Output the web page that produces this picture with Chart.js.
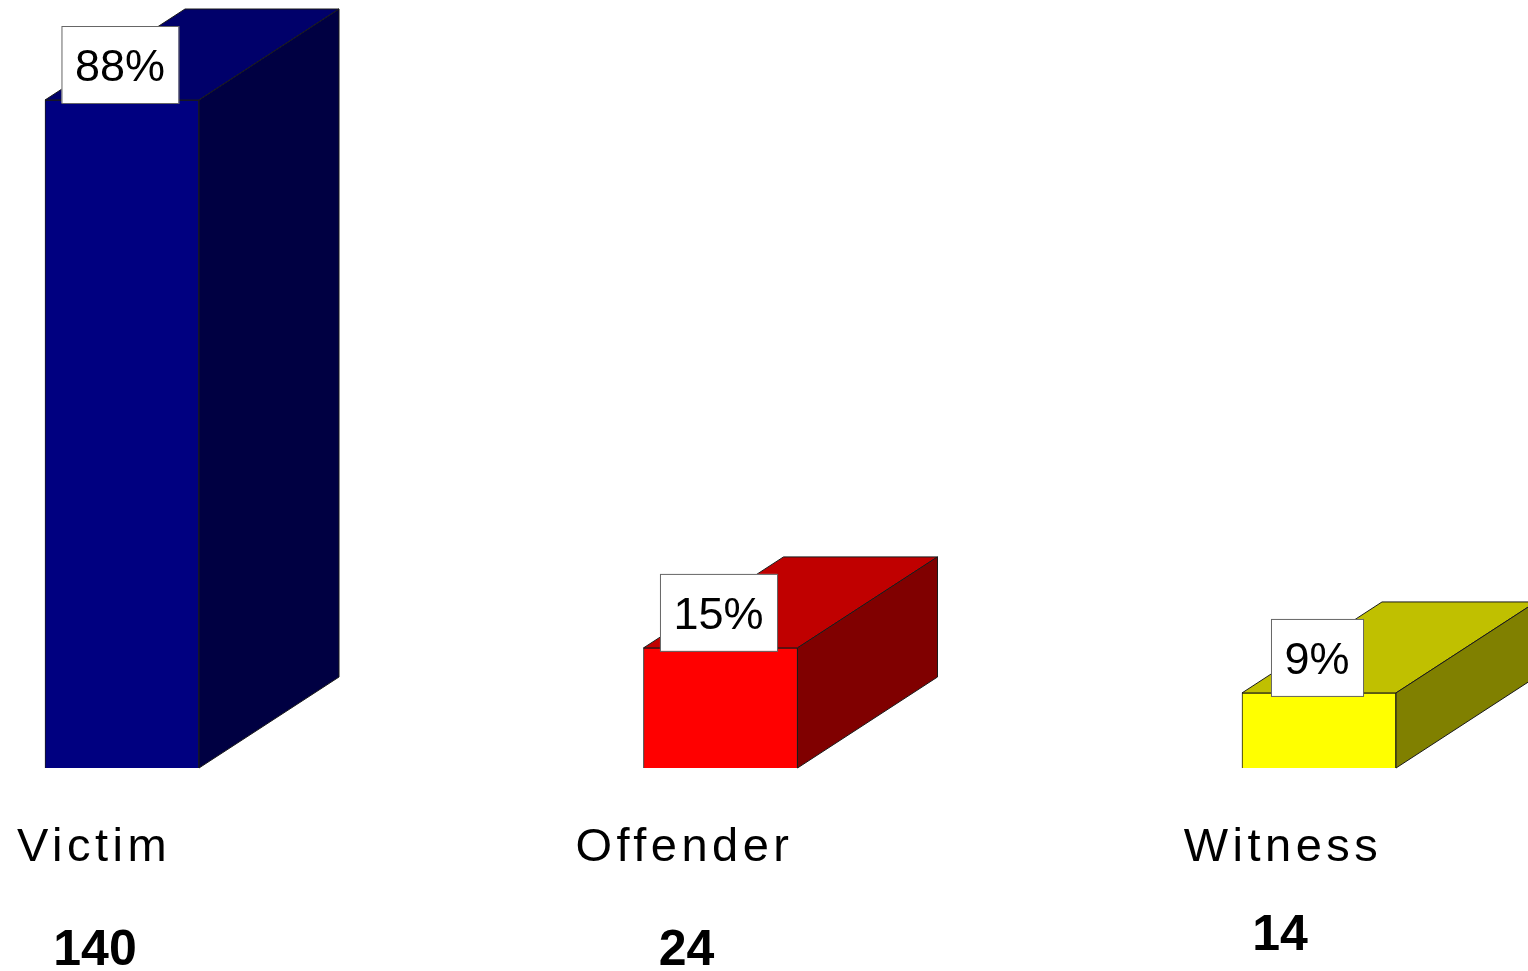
<!DOCTYPE html>
<html>
<head>
<meta charset="utf-8">
<script src="https://cdn.jsdelivr.net/npm/chart.js"></script>
<style>
  html, body { margin: 0; padding: 0; background: #fff; }
  #wrap { width: 1528px; height: 971px; }
</style>
</head>
<body>
<div id="wrap"><canvas id="chart" width="1528" height="971"></canvas></div>
<script>
// data
var categories = ['Victim', 'Offender', 'Witness'];
var counts = [140, 24, 14];
var percents = [88, 15, 9];
var percentLabels = ['88%', '15%', '9%'];

// colours: front / top / side of each block
var frontColors = ['#000080', '#ff0000', '#ffff00'];
var topColors = ['#00006a', '#c00000', '#c0c000'];
var sideColors = ['#000042', '#800000', '#808000'];

// 3d depth of the blocks
var depthX = 140;
var depthY = -91;
// small hand nudges for the text under the blocks
var nameNudge = [4, -4, -4];
var countNudge = [7, 0, -5];
var countDrop = [0, 0, -15];

var blocks3d = {
  id: 'blocks3d',
  afterDatasetsDraw: function(chart) {
    var ctx = chart.ctx;
    var meta = chart.getDatasetMeta(0);
    ctx.save();
    ctx.lineWidth = 1;
    ctx.strokeStyle = '#1a1a1a';

    meta.data.forEach(function(bar, i) {
      var w = bar.width;
      var l = bar.x - w / 2, r = bar.x + w / 2;
      var t = bar.y, b = bar.base;

      // top face
      ctx.beginPath();
      ctx.moveTo(l, t);
      ctx.lineTo(r, t);
      ctx.lineTo(r + depthX, t + depthY);
      ctx.lineTo(l + depthX, t + depthY);
      ctx.closePath();
      ctx.fillStyle = topColors[i];
      ctx.fill();
      ctx.stroke();

      // side face
      ctx.beginPath();
      ctx.moveTo(r, t);
      ctx.lineTo(r + depthX, t + depthY);
      ctx.lineTo(r + depthX, b + depthY);
      ctx.lineTo(r, b);
      ctx.closePath();
      ctx.fillStyle = sideColors[i];
      ctx.fill();
      ctx.stroke();

      // percent label box
      ctx.font = '45px "Liberation Sans", Arial, sans-serif';
      var tw = ctx.measureText(percentLabels[i]).width;
      var bw = tw + 27, bh = 77;
      var bx = bar.x - 2 - bw / 2;
      var by = t + 3 - bh;
      ctx.fillStyle = '#fff';
      ctx.fillRect(bx, by, bw, bh);
      ctx.strokeStyle = '#666';
      ctx.strokeRect(bx + 0.5, by + 0.5, bw, bh);
      ctx.strokeStyle = '#1a1a1a';
      ctx.fillStyle = '#000';
      ctx.textAlign = 'center';
      ctx.textBaseline = 'alphabetic';
      ctx.fillText(percentLabels[i], bx + bw / 2, by + bh - 22);
    });

    // category names and counts under the blocks
    var xScale = chart.scales.x;
    categories.forEach(function(name, i) {
      var cx = xScale.getPixelForValue(i) - 34;
      ctx.fillStyle = '#000';
      ctx.textAlign = 'center';
      ctx.font = '47px "Liberation Sans", Arial, sans-serif';
      ctx.letterSpacing = '4.5px';
      ctx.fillText(name, cx + 2 + nameNudge[i], 861);
      ctx.letterSpacing = '0px';
      ctx.font = 'bold 50px "Liberation Sans", Arial, sans-serif';
      ctx.fillText(String(counts[i]), cx + countNudge[i], 965 + countDrop[i]);
    });
    ctx.restore();
  }
};

var ctx = document.getElementById('chart').getContext('2d');
var chart = new Chart(ctx, {
  type: 'bar',
  data: {
    labels: categories,
    datasets: [{
      data: percents,
      base: -1,
      backgroundColor: frontColors,
      borderColor: '#1a1a1a',
      borderWidth: 1,
      barThickness: 154,
      clip: false
    }]
  },
  options: {
    responsive: false,
    animation: false,
    devicePixelRatio: 1,
    layout: { padding: { left: 122, right: 209, top: 85, bottom: 203 } },
    plugins: {
      legend: { display: false },
      tooltip: { enabled: false }
    },
    scales: {
      x: { type: 'category', offset: false, display: false, grid: { display: false } },
      y: { min: -1, max: 90, display: false, grid: { display: false } }
    }
  },
  plugins: [blocks3d]
});
</script>
</body>
</html>
